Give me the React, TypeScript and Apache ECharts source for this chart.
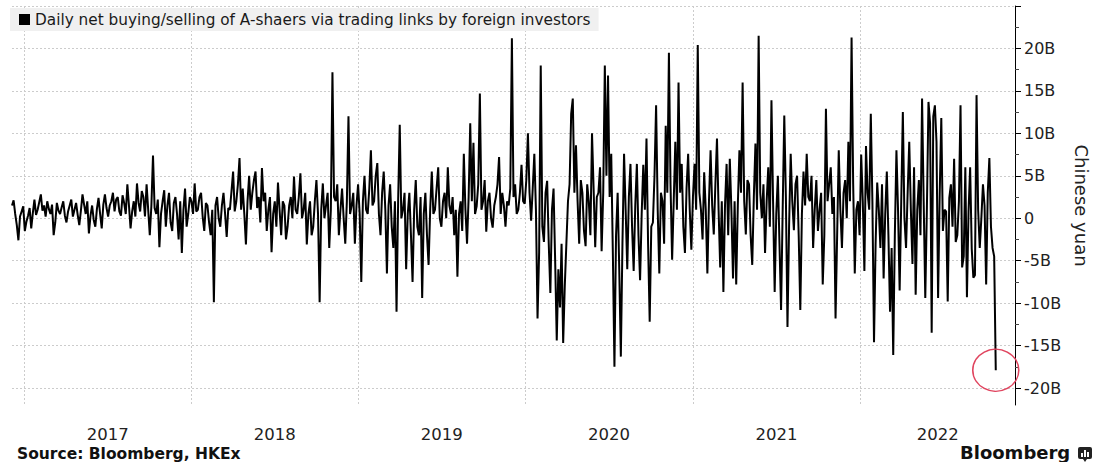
import { useEffect, useRef } from 'react';
import * as echarts from 'echarts';

// ---- data (samples every 3.5 days, billions of yuan) ----
const SERIES_NAME = 'Daily net buying/selling of A-shaers via trading links by foreign investors';
const FIRST_DATE = '2016-12-05';
const STEP_DAYS = 3.5;
const X_MIN = '2016-12-05';
const X_MAX = '2022-12-05';
const YEAR_STARTS = ['2017-01-01', '2018-01-01', '2019-01-01', '2020-01-01', '2021-01-01', '2022-01-01'];
const YEAR_LABEL_DATES = ['2017-07-02', '2018-07-02', '2019-07-02', '2020-07-01', '2021-07-02', '2022-06-19'];
const Y_MIN = -22;
const Y_MAX = 25;
const Y_MAJOR_TICKS = [-20, -15, -10, -5, 0, 5, 10, 15, 20, 25];
const Y_LABELS = [-20, -15, -10, -5, 0, 5, 10, 15, 20];
const Y_MINOR_TICKS = [-17.5, -12.5, -7.5, -2.5, 2.5, 7.5, 12.5, 17.5, 22.5];

const NET_2017 = [
  1.5, 2.1, 0.5, -0.8, -2.6, 0.2, 0.8, 1.4, -1.5, -0.4, 0.3, 1.2, -1.2, 0.6, 2.2, 0.4, 1.0, 1.9, 2.8, 0.9,
  1.5, 0.2, 2.0, 1.1, 0.5, 1.6, -2.0, -0.5, 1.8, 0.9, 0.5, 1.3, 2.0, 0.3, -0.5, 0.8, 1.5, 2.2, 0.2, 1.0,
  1.8, 0.4, -0.8, 0.9, 2.8, 1.6, 0.5, 2.0, -1.8, 0.3, 1.5, -0.2, -1.0, 1.1, 2.4, 0.5, -1.2, 1.6, 2.8, 1.2,
  0.2, 1.5, 2.0, 3.0, 0.8, 2.2, 2.5, 0.8, 0.3, 2.7, 1.8, 0.5, 4.0, 1.5, -1.2, 0.8, 2.0, 0.2, 4.1, 1.8,
  0.8, 3.2, 2.5, 0.2, 4.0, 1.0, -2.0, 1.5, 7.4, 1.2, 0.5, 2.2, -3.4, 0.5, 2.0, 3.3, -1.0, 1.5, 3.0, -0.5,
  -1.5, 1.8, 2.5, 0.5, -2.5, 2.0, -4.1, 1.0, 3.5, -1.0, 0.5, 2.5,
];
const NET_2018 = [
  2.0, 0.5, 4.1, 0.8, 1.0, 2.5, 3.0, 0.2, -1.5, 1.8, 1.5, -0.5, -2.0, 1.0, -9.9, 1.5, 2.5, 0.0, -1.0, 1.5,
  3.0, 0.5, -2.2, 1.2, 1.0, 3.2, 5.5, 0.8, 2.0, 4.0, 7.1, 1.0, 3.5, 0.5, -3.1, 2.0, 5.0, 1.0, 3.0, 4.5,
  5.5, 1.2, 2.5, -0.5, 5.9, 2.0, 3.0, -1.5, 1.0, 2.5, -4.0, 0.5, 2.0, -1.0, 4.2, 1.0, -2.0, 2.0, 1.5, -2.5,
  -1.0, 1.5, 2.5, 0.0, 4.9, 1.0, 0.5, 2.5, 5.3, 0.0, 1.0, 3.0, -3.1, 0.5, 2.0, -2.0, -1.0, 2.0, 4.5, 0.5,
  -9.9, 1.0, 4.1, 0.0, 1.5, 3.0, -3.5, 1.0, 17.2, 2.5, 2.0, 4.0, -2.0, 1.0, 3.5, 0.0, -3.0, 2.0, 12.0, 0.5,
  1.5, 3.0, -3.0, 1.5,
];
const NET_2019 = [
  4.0, 0.5, -7.5, 2.0, 5.0, 1.0, 0.5, 3.5, 8.0, 1.5, 2.0, 5.0, 6.5, 0.5, -2.0, 3.0, 5.5, 1.0, -6.5, 1.5,
  4.0, -1.0, -3.5, 2.0, -11.0, 2.0, 11.0, 0.0, 1.0, 3.0, -6.0, 0.5, 3.0, -2.0, -7.5, 1.0, 4.5, -1.0, -2.0, 2.5,
  -9.4, 0.5, 3.0, -2.0, -5.5, 1.0, 5.5, 0.5, 1.0, 3.5, 6.0, 0.0, -1.0, 2.0, 3.0, 0.0, 6.0, 1.5, 0.5, 2.5,
  -2.0, 1.0, -6.9, 0.5, 2.0, -1.5, 7.6, 1.0, -3.0, 2.5, 11.2, 2.0, 8.9, 0.5, 1.4, 4.0, 14.7, 1.0, 2.0, 4.5,
  -1.6, 2.0, 3.0, 0.0, -1.1, 1.5, 2.5, 4.0, 7.2, 0.5, 3.0, 1.5, -1.0, 2.0, 1.5, 3.5, 21.2, 2.5, 4.0, 0.5,
  1.0, 3.0, 6.3, 2.0,
];
const NET_2020 = [
  1.7, 4.5, 10.0, 3.0, -0.3, 3.5, 7.6, 1.0, -11.8, -4.0, 18.0, -1.0, -2.8, 3.0, 4.4, -3.0, -8.8, 1.0, 3.5, -5.0,
  -14.4, -6.0, -10.5, -3.0, -14.7, -8.0, -3.0, 2.0, 4.0, 12.3, 14.1, 3.0, 8.6, 2.0, -3.0, 4.5, 3.0, -1.5, -3.3, 4.0,
  2.0, -2.0, 10.0, 3.5, -3.4, 2.5, 3.0, 6.0, -3.9, 3.0, 18.0, 5.0, 16.8, 2.5, 7.6, -4.0, -17.5, -2.0, 3.0, -6.0,
  -16.3, -3.0, 7.6, 1.0, -6.0, 2.5, 6.4, -1.0, -6.2, 1.5, 6.4, -2.0, -7.3, 0.5, 6.3, 1.0, 9.4, -3.0, -12.2, -1.0,
  -0.5, 5.0, 13.3, 1.0, -6.5, 3.0, 2.0, -3.0, 10.9, 3.0, 19.5, 4.0, -4.9, 2.0, 9.0, 1.0, 16.0, 3.0, 6.4, -1.0,
  -4.1, 3.5, 7.6, 1.0,
];
const NET_2021 = [
  -3.7, 2.5, 6.4, 1.0, 20.4, 3.0, 1.0, -2.5, 5.4, 1.0, -6.5, 2.0, 8.0, 1.5, -1.9, 4.0, 9.4, 1.0, -5.8, 2.0,
  -8.7, 1.5, 6.4, -2.0, 7.0, 1.0, -7.1, 2.0, -7.8, 1.5, 8.0, 3.0, 16.0, 2.0, -1.9, 4.5, 4.0, -2.0, -5.5, 2.5,
  8.8, 1.0, 21.5, 3.0, 0.0, 4.0, -4.1, 2.0, 6.0, -1.0, 13.9, 2.0, -8.7, 0.5, 5.0, -3.0, -10.8, 1.0, 12.1, 2.5,
  -12.8, -1.0, 7.6, 2.0, -1.4, 4.0, 5.0, -2.0, -10.8, 0.5, 5.5, 1.5, 7.6, 2.5, 2.0, 5.0, -3.5, 1.0, 4.5, -1.5,
  1.0, 3.0, -7.8, -2.0, 12.9, 2.0, 4.0, 6.0, 0.5, 2.5, -11.8, -2.0, 8.0, 1.0, -3.5, 3.0, 4.5, 0.0, 9.0, 2.0,
  21.3, 4.0, -6.5, 1.0,
];
const NET_2022 = [
  2.0, -2.0, 7.5, 2.0, -6.2, 8.5, 3.0, 1.0, 12.3, 2.0, -14.6, -3.0, 4.2, 1.0, -3.5, 4.0, -7.1, 0.5, 5.5, -2.0,
  -11.0, -3.5, -16.1, -2.0, 8.0, 1.0, -8.5, 2.0, 12.5, 0.0, -3.5, 3.0, 9.0, 1.0, -5.4, 6.0, -9.0, 1.0, 4.5, -2.0,
  14.1, 2.0, -9.4, 1.0, 13.7, 11.2, -13.5, 12.0, 13.3, 9.0, -9.4, 2.9, 11.8, -1.5, 1.0, 0.8, -9.8, 2.4, 4.0, -1.0,
  7.0, -2.8, -2.0, 2.0, 13.3, -5.8, -4.5, 6.0, -9.3, 0.8, 6.0, -3.6, -7.0, -6.7, 14.5, 1.0, -3.5, 0.0, 4.0, 1.5,
  -7.8, 3.0, 7.1, -1.0, -3.5, -4.5, -17.9,
];

const toTs = (s: string) => new Date(s + 'T00:00:00').getTime();
const DAY_MS = 86400000;

export default function App() {
  const ref = useRef<HTMLDivElement>(null);

  useEffect(() => {
    if (!ref.current) return;
    const chart = echarts.init(ref.current, undefined, { renderer: 'svg' });

    const values = [...NET_2017, ...NET_2018, ...NET_2019, ...NET_2020, ...NET_2021, ...NET_2022];
    const startTs = toTs(FIRST_DATE);
    const data = values.map((v, i) => [startTs + i * STEP_DAYS * DAY_MS, v]);
    const last = data[data.length - 1];

    const font = 'DejaVu Sans';

    chart.setOption({
      animation: false,
      backgroundColor: '#ffffff',
      grid: { left: 12, right: 79, top: 6, bottom: 57, containLabel: false, outerBoundsMode: 'none' },
      legend: {
        show: true,
        left: 10,
        top: 8,
        selectedMode: false,
        data: [{ name: SERIES_NAME, icon: 'rect' }],
        itemWidth: 11,
        itemHeight: 11,
        padding: [4, 8, 4, 9],
        backgroundColor: '#f0f0f0',
        textStyle: { fontSize: 15.3, color: '#1a1a1a', fontFamily: font },
      },
      xAxis: {
        type: 'value',
        min: toTs(X_MIN),
        max: toTs(X_MAX),
        axisLine: { show: false },
        axisTick: { show: false, customValues: YEAR_STARTS.map(toTs) },
        splitLine: { show: true, lineStyle: { color: '#cccccc', type: [2, 2], width: 1 } },
        axisLabel: {
          customValues: YEAR_LABEL_DATES.map(toTs),
          formatter: (v: number) => String(new Date(v).getFullYear()),
          fontSize: 16.5,
          color: '#222',
          margin: 21,
          fontFamily: font,
        },
      },
      yAxis: [
        {
          type: 'value',
          position: 'right',
          min: Y_MIN,
          max: Y_MAX,
          axisLine: { show: true, onZero: false, lineStyle: { color: '#000', width: 1 } },
          axisTick: { show: true, customValues: Y_MAJOR_TICKS, length: 6, lineStyle: { color: '#000' } },
          axisLabel: {
            customValues: Y_LABELS,
            formatter: (v: number) => (v === 0 ? '0' : `${v}B`),
            fontSize: 16,
            color: '#222',
            margin: 9,
            fontFamily: font,
          },
          splitLine: { show: true, lineStyle: { color: '#cccccc', type: [2, 2], width: 1 } },
          name: 'Chinese yuan',
          nameLocation: 'middle',
          nameRotate: -90,
          nameGap: 55,
          nameTextStyle: { fontSize: 18, color: '#222', fontFamily: font },
        },
        {
          type: 'value',
          position: 'right',
          min: Y_MIN,
          max: Y_MAX,
          axisLine: { show: false },
          axisTick: { show: true, customValues: Y_MINOR_TICKS, length: 4, lineStyle: { color: '#444' } },
          axisLabel: { show: false },
          splitLine: { show: false },
        },
      ],
      series: [
        {
          type: 'line',
          name: SERIES_NAME,
          yAxisIndex: 0,
          data,
          symbol: 'none',
          showSymbol: false,
          lineStyle: { color: '#000', width: 2 },
          itemStyle: { color: '#000' },
          markPoint: {
            silent: true,
            symbol: 'circle',
            symbolSize: [46, 42],
            label: { show: false },
            itemStyle: { color: 'rgba(0,0,0,0)', borderColor: '#e0455f', borderWidth: 1.5 },
            data: [{ coord: last }],
          },
        },
      ],
      graphic: [
        {
          type: 'text',
          left: 17,
          top: 446,
          style: { text: 'Source: Bloomberg, HKEx', font: `bold 15.5px "${font}"`, fill: '#111' },
        },
        {
          type: 'text',
          left: 960,
          top: 443,
          style: { text: 'Bloomberg', font: `bold 18px "${font}"`, fill: '#111' },
        },
        {
          type: 'group',
          left: 1078,
          top: 447,
          children: [
            { type: 'rect', shape: { x: 0, y: 0, width: 14, height: 12, r: 2 }, style: { fill: '#222' } },
            { type: 'polygon', shape: { points: [[5, 12], [9, 12], [7, 15]] }, style: { fill: '#222' } },
            { type: 'rect', shape: { x: 3, y: 6, width: 2, height: 4 }, style: { fill: '#fff' } },
            { type: 'rect', shape: { x: 6, y: 3, width: 2, height: 7 }, style: { fill: '#fff' } },
            { type: 'rect', shape: { x: 9, y: 5, width: 2, height: 5 }, style: { fill: '#fff' } },
          ],
        },
      ],
    });

    return () => chart.dispose();
  }, []);

  return (
    <div
      ref={ref}
      style={{ position: 'fixed', left: 0, top: 0, width: 1094, height: 462, background: '#fff' }}
    />
  );
}
